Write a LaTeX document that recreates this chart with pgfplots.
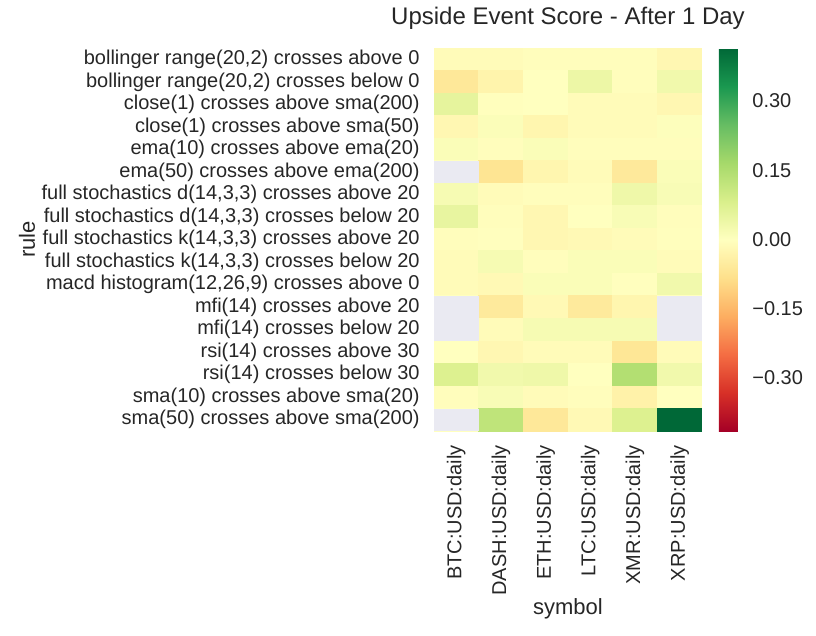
\documentclass[border=0pt]{standalone}
\usepackage{pgfplots}
\pgfplotsset{compat=1.18}
\usepackage{pgfplotstable}
\usepackage{fontspec}
\setmainfont{Liberation Sans}
\definecolor{txt}{HTML}{262626}
\definecolor{nangray}{HTML}{EAEAF2}

\pgfplotstableread{
x y v
0 0 -0.010
1 0 -0.010
2 0 -0.005
3 0 -0.005
4 0 -0.005
5 0 -0.020
0 1 -0.060
1 1 -0.030
2 1 0.000
3 1 0.040
4 1 -0.005
5 1 0.030
0 2 0.055
1 2 -0.003
2 2 0.000
3 2 -0.010
4 2 -0.010
5 2 -0.020
0 3 -0.020
1 3 0.010
2 3 -0.025
3 3 -0.010
4 3 -0.010
5 3 0.005
0 4 0.012
1 4 -0.004
2 4 0.012
3 4 -0.004
4 4 -0.004
5 4 -0.004
0 5 0.000
1 5 -0.070
2 5 -0.025
3 5 -0.010
4 5 -0.058
5 5 0.012
0 6 0.020
1 6 -0.010
2 6 -0.005
3 6 -0.005
4 6 0.035
5 6 0.015
0 7 0.050
1 7 -0.004
2 7 -0.020
3 7 0.000
4 7 0.015
5 7 -0.004
0 8 -0.004
1 8 -0.002
2 8 -0.020
3 8 -0.015
4 8 -0.010
5 8 -0.003
0 9 -0.010
1 9 0.020
2 9 -0.004
3 9 0.012
4 9 0.012
5 9 -0.010
0 10 -0.010
1 10 -0.015
2 10 0.012
3 10 0.012
4 10 -0.002
5 10 0.030
0 11 0.000
1 11 -0.055
2 11 -0.015
3 11 -0.055
4 11 -0.025
5 11 0.000
0 12 0.000
1 12 -0.010
2 12 0.020
3 12 0.020
4 12 0.020
5 12 0.000
0 13 0.000
1 13 -0.020
2 13 -0.010
3 13 -0.010
4 13 -0.065
5 13 -0.010
0 14 0.075
1 14 0.030
2 14 0.035
3 14 0.000
4 14 0.145
5 14 0.030
0 15 -0.005
1 15 0.015
2 15 -0.010
3 15 -0.005
4 15 -0.035
5 15 0.000
0 16 0.000
1 16 0.125
2 16 -0.060
3 16 -0.015
4 16 0.075
5 16 0.415
}\datatable

\begin{document}
\begin{tikzpicture}
\begin{axis}[
  name=hm,
  scale only axis, width=134pt, height=191.5pt,
  xmin=-0.5, xmax=5.5, ymin=-0.5, ymax=16.5, y dir=reverse,
  axis line style={draw=none}, major tick length=0pt,
  xtick={0,...,5},
  xticklabels={BTC:USD:daily,DASH:USD:daily,ETH:USD:daily,LTC:USD:daily,XMR:USD:daily,XRP:USD:daily},
  ytick={0,...,16},
  yticklabels={
    bollinger range(20{,}2) crosses above 0,
    bollinger range(20{,}2) crosses below 0,
    close(1) crosses above sma(200),
    close(1) crosses above sma(50),
    ema(10) crosses above ema(20),
    ema(50) crosses above ema(200),
    full stochastics d(14{,}3{,}3) crosses above 20,
    full stochastics d(14{,}3{,}3) crosses below 20,
    full stochastics k(14{,}3{,}3) crosses above 20,
    full stochastics k(14{,}3{,}3) crosses below 20,
    macd histogram(12{,}26{,}9) crosses above 0,
    mfi(14) crosses above 20,
    mfi(14) crosses below 20,
    rsi(14) crosses above 30,
    rsi(14) crosses below 30,
    sma(10) crosses above sma(20),
    sma(50) crosses above sma(200)},
  tick label style={font=\fontsize{10}{12}\selectfont, text=txt},
  xticklabel style={yshift=-7pt, rotate=90, anchor=east, inner sep=0pt},
  yticklabel style={xshift=-7pt, anchor=east, inner sep=0pt},
  title={Upside Event Score - After 1 Day},
  title style={at={(axis description cs:0.5,1)}, anchor=base, yshift=6pt, font=\fontsize{12}{14}\selectfont, text=txt},
  xlabel={symbol}, ylabel={rule},
  every axis x label/.style={at={(axis description cs:0.5,0)}, yshift=-89pt, anchor=center, font=\fontsize{11}{13}\selectfont, text=txt},
  every axis y label/.style={at={(axis description cs:0,0.5)}, xshift=-203.5pt, rotate=90, anchor=center, font=\fontsize{11}{13}\selectfont, text=txt},
  colormap={RdYlGn}{rgb255=(165,0,38) rgb255=(215,48,39) rgb255=(244,109,67) rgb255=(253,174,97) rgb255=(254,224,139) rgb255=(255,255,191) rgb255=(217,239,139) rgb255=(166,217,106) rgb255=(102,189,99) rgb255=(26,152,80) rgb255=(0,104,55)},
  point meta min=-0.415, point meta max=0.415,
  colorbar,
  colorbar shift/.style={},
  colorbar style={
    at={(parent axis.north east)}, anchor=north west, xshift=8.5pt,
    width=9.5pt,
    axis line style={draw=none}, major tick length=0pt,
    ytick={-0.3,-0.15,0,0.15,0.3},
    yticklabels={−0.30,−0.15,0.00,0.15,0.30},
    yticklabel style={font=\fontsize{10}{12}\selectfont, text=txt, anchor=west, inner sep=0pt, xshift=7pt},
  },
]
\addplot[matrix plot*, mesh/cols=6, point meta=explicit] table[x=x, y=y, meta=v] {\datatable};
\addplot[fill=nangray, draw=none] coordinates {(-0.5,4.5) (0.5,4.5) (0.5,5.5) (-0.5,5.5)} -- cycle;
\addplot[fill=nangray, draw=none] coordinates {(-0.5,10.5) (0.5,10.5) (0.5,12.5) (-0.5,12.5)} -- cycle;
\addplot[fill=nangray, draw=none] coordinates {(4.5,10.5) (5.5,10.5) (5.5,12.5) (4.5,12.5)} -- cycle;
\addplot[fill=nangray, draw=none] coordinates {(-0.5,15.5) (0.5,15.5) (0.5,16.5) (-0.5,16.5)} -- cycle;
\end{axis}
\path (hm.south west) ++(-217pt,-102pt) rectangle ++(408pt,315.5pt);
\end{tikzpicture}
\end{document}
